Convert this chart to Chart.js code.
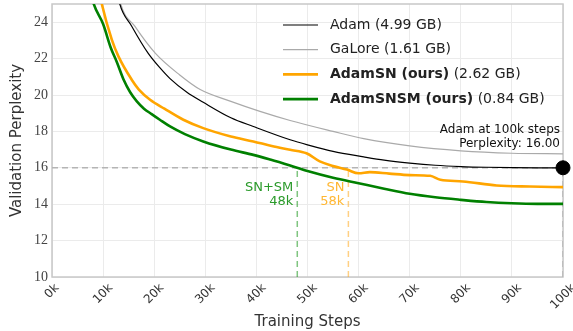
<!DOCTYPE html>
<html>
<head>
<meta charset="utf-8">
<script src="https://cdn.jsdelivr.net/npm/chart.js@4.4.1/dist/chart.umd.min.js"></script>
<style>
  html, body { margin: 0; padding: 0; background: #fff; }
  #wrap { width: 573px; height: 331px; }
</style>
</head>
<body>
<div id="wrap"><canvas id="myChart" width="573" height="331"></canvas></div>
<script>
// steps are in thousands
const adamSteps = [11.6, 13.2, 15.6, 18.8, 21.1, 23.1, 26.4, 29.6, 35, 39.4, 46.6, 50, 55, 61, 65, 70, 75, 80, 85, 90, 95, 100];
const adamPpl   = [27.5, 25.06, 23.78, 22.3, 21.5, 20.9, 20.15, 19.6, 18.75, 18.27, 17.54, 17.26, 16.9, 16.6, 16.42, 16.26, 16.14, 16.07, 16.03, 16.01, 16.0, 16.0];

const galoreSteps = [12.2, 13.4, 16.2, 20.2, 25, 29, 35, 40.7, 46.6, 55, 61, 70, 80, 90, 100];
const galorePpl   = [27, 25.06, 23.78, 22.3, 21.1, 20.3, 19.65, 19.1, 18.6, 18.0, 17.6, 17.2, 16.93, 16.8, 16.77];

const snSteps = [8, 9.7, 11.7, 13, 15.6, 17, 19.2, 22, 25.7, 29.6, 35, 39.4, 43, 46.6, 49.8, 52.4, 55, 57.7, 60, 62.2, 66, 70, 74, 76, 80.4, 87, 93.5, 100];
const snPpl   = [27.5, 25.06, 23.04, 22.12, 20.84, 20.3, 19.74, 19.25, 18.64, 18.18, 17.72, 17.45, 17.2, 16.99, 16.8, 16.35, 16.1, 15.9, 15.7, 15.76, 15.68, 15.6, 15.56, 15.34, 15.25, 15.03, 14.97, 14.94];

const snsmSteps = [6.5, 8.1, 10, 11.5, 12.7, 14, 15.3, 16.6, 18, 19.5, 21.1, 23.1, 26, 29.6, 35, 39.4, 42.7, 46.6, 50, 55, 60, 65, 70, 75, 80, 85, 90, 95, 100];
const snsmPpl   = [27, 25.06, 23.9, 22.6, 21.8, 20.85, 20.15, 19.65, 19.25, 18.95, 18.64, 18.27, 17.85, 17.45, 17.0, 16.71, 16.45, 16.12, 15.82, 15.45, 15.15, 14.85, 14.57, 14.38, 14.24, 14.12, 14.05, 14.02, 14.02];

const xTicks = [0, 10, 20, 30, 40, 50, 60, 70, 80, 90, 100];
const yTicks = [10, 12, 14, 16, 18, 20, 22, 24];

const adamFinal = 16.0;
const snCross = 58;
const snsmCross = 48;

const legendItems = [
  { bold: '', rest: 'Adam (4.99 GB)', color: '#000000', width: 1.2 },
  { bold: '', rest: 'GaLore (1.61 GB)', color: '#aaaaaa', width: 1.2 },
  { bold: 'AdamSN (ours)', rest: ' (2.62 GB)', color: '#ffa500', width: 2.6 },
  { bold: 'AdamSNSM (ours)', rest: ' (0.84 GB)', color: '#008000', width: 2.6 }
];

const SANS = '"DejaVu Sans", sans-serif';
const SERIF = '"Liberation Serif", serif';

function pts(xs, ys) {
  return xs.map((x, i) => ({ x: x, y: ys[i] }));
}

function curve(xs, ys, color, width) {
  return {
    data: pts(xs, ys),
    borderColor: color,
    borderWidth: width,
    pointRadius: 0,
    cubicInterpolationMode: 'monotone',
    fill: false
  };
}

function refLine(data, color) {
  return {
    data: data,
    borderColor: color,
    borderWidth: 1.5,
    borderDash: [6, 4],
    pointRadius: 0,
    fill: false
  };
}

// text, frame, legend and rotated x labels
const overlay = {
  id: 'overlay',
  beforeDatasetsDraw(chart) {
    const a = chart.chartArea, c = chart.ctx;
    c.save();
    c.strokeStyle = '#c8c8c8';
    c.lineWidth = 1.5;
    c.strokeRect(a.left, a.top, a.right - a.left, a.bottom - a.top);
    c.restore();
  },
  afterDraw(chart) {
    const c = chart.ctx, xs = chart.scales.x, ys = chart.scales.y, a = chart.chartArea;
    c.save();

    // rotated x tick labels, centered on the tick
    c.font = '12px ' + SANS;
    c.fillStyle = '#333';
    c.textAlign = 'center';
    c.textBaseline = 'middle';
    xTicks.forEach(v => {
      const t = v + 'k';
      const w = c.measureText(t).width, h = 9;
      const bh = (w + h) / Math.SQRT2;
      c.save();
      c.translate(xs.getPixelForValue(v), a.bottom + 6 + bh / 2);
      c.rotate(-Math.PI / 4);
      c.fillText(t, 0, 0);
      c.restore();
    });

    // axis titles
    c.font = '15px ' + SANS;
    c.fillStyle = '#333';
    c.fillText('Training Steps', (a.left + a.right) / 2, 322);
    c.save();
    c.translate(17, (a.top + a.bottom) / 2);
    c.rotate(-Math.PI / 2);
    c.fillText('Validation Perplexity', 0, 0);
    c.restore();

    // legend
    legendItems.forEach((it, i) => {
      const y = 25 + i * 24.7;
      c.strokeStyle = it.color;
      c.lineWidth = it.width;
      c.beginPath();
      c.moveTo(283, y);
      c.lineTo(318, y);
      c.stroke();
      c.textAlign = 'left';
      c.fillStyle = '#222';
      let x = 330;
      if (it.bold) {
        c.font = 'bold 14px ' + SANS;
        c.fillText(it.bold, x, y);
        x += c.measureText(it.bold).width;
      }
      c.font = '14px ' + SANS;
      c.fillText(it.rest, x, y);
    });

    // annotation for Adam's final value
    c.font = '12px ' + SANS;
    c.fillStyle = '#111';
    c.textAlign = 'right';
    c.fillText('Adam at 100k steps', 560, 130);
    c.fillText('Perplexity: ' + adamFinal.toFixed(2), 560, 144);

    // crossing labels
    const y16 = ys.getPixelForValue(adamFinal);
    c.font = '13px ' + SANS;
    c.fillStyle = '#2a9a2a';
    c.fillText('SN+SM', xs.getPixelForValue(snsmCross) - 4, y16 + 20);
    c.fillText(snsmCross + 'k', xs.getPixelForValue(snsmCross) - 4, y16 + 34);
    c.fillStyle = '#ffb733';
    c.fillText('SN', xs.getPixelForValue(snCross) - 4, y16 + 20);
    c.fillText(snCross + 'k', xs.getPixelForValue(snCross) - 4, y16 + 34);

    c.restore();
  }
};

const ctx = document.getElementById('myChart').getContext('2d');
const chart = new Chart(ctx, {
  type: 'line',
  data: {
    datasets: [
      { data: [{ x: 100, y: adamFinal }], type: 'scatter', pointRadius: 7, backgroundColor: '#000', borderColor: '#000', clip: false },
      curve(snsmSteps, snsmPpl, '#008000', 2.6),
      curve(snSteps, snPpl, '#ffa500', 2.6),
      curve(adamSteps, adamPpl, '#000000', 1.2),
      curve(galoreSteps, galorePpl, '#aaaaaa', 1.2),
      refLine([{ x: 0, y: adamFinal }, { x: 100, y: adamFinal }], '#b4b4b4'),
      refLine([{ x: 100, y: 10 }, { x: 100, y: adamFinal }], '#b4b4b4'),
      refLine([{ x: snsmCross, y: 10 }, { x: snsmCross, y: adamFinal }], 'rgba(0,140,0,0.5)'),
      refLine([{ x: snCross, y: 10 }, { x: snCross, y: adamFinal }], 'rgba(255,170,30,0.55)')
    ]
  },
  options: {
    responsive: false,
    animation: false,
    layout: { autoPadding: false, padding: { left: 0, right: 10, top: 4, bottom: 0 } },
    plugins: { legend: { display: false }, tooltip: { enabled: false } },
    scales: {
      x: {
        type: 'linear',
        min: 0, max: 100,
        afterFit(s) { s.height = 54; s.paddingLeft = 0; s.paddingRight = 0; },
        afterBuildTicks(s) { s.ticks = xTicks.map(v => ({ value: v })); },
        ticks: { display: false },
        grid: { color: '#ebebeb', drawTicks: false },
        border: { display: false }
      },
      y: {
        min: 10, max: 25,
        afterFit(s) { s.width = 52; s.paddingTop = 0; s.paddingBottom = 0; },
        afterBuildTicks(s) { s.ticks = yTicks.map(v => ({ value: v })); },
        ticks: { font: { family: SERIF, size: 14 }, color: '#444', padding: 4 },
        grid: { color: '#ebebeb', drawTicks: false },
        border: { display: false }
      }
    }
  },
  plugins: [overlay]
});
</script>
</body>
</html>
